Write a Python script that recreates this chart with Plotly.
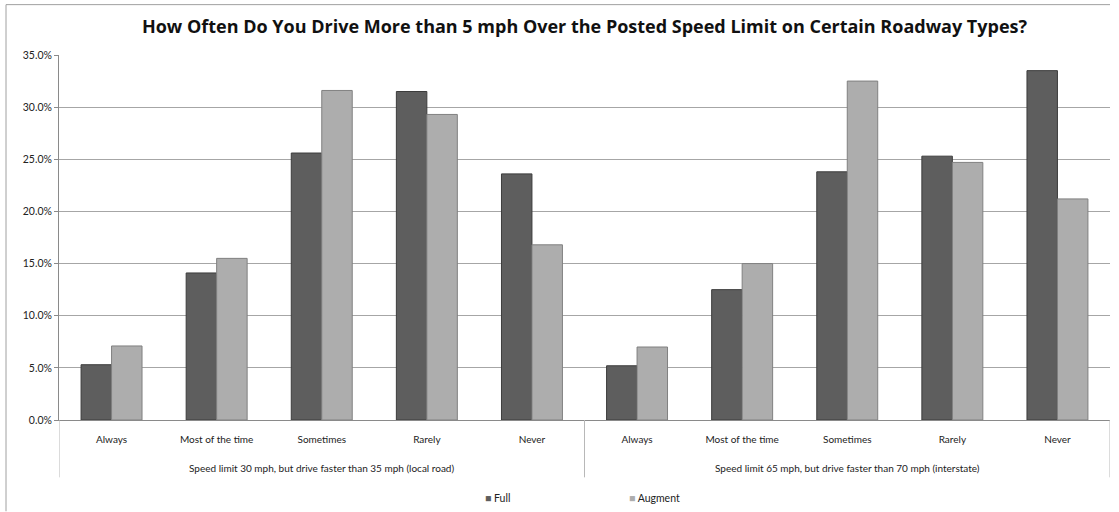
import plotly.graph_objects as go

groups = ["Speed limit 30 mph, but drive faster than 35 mph (local road)",
          "Speed limit 65 mph, but drive faster than 70 mph (interstate)"]
answers = ["Always", "Most of the time", "Sometimes", "Rarely", "Never"]
full_local = [0.053, 0.141, 0.256, 0.315, 0.236]
full_inter = [0.052, 0.125, 0.238, 0.253, 0.335]
aug_local = [0.071, 0.155, 0.316, 0.293, 0.168]
aug_inter = [0.070, 0.150, 0.325, 0.247, 0.212]
y_ticks = [0, 0.05, 0.10, 0.15, 0.20, 0.25, 0.30, 0.35]
series_names = ["Full", "Augment"]
series_colors = ["#5e5e5e", "#adadad"]

n = len(answers)
x_pos = list(range(n * len(groups)))
x_text = answers * len(groups)
full_vals = full_local + full_inter
aug_vals = aug_local + aug_inter

W, H = 1119, 512
L, R, T, B = 59, 1110, 54.5, 420.5

def px(x):
    return (x - L) / (R - L)

def py(y):
    return (B - y) / (B - T)

font_family = "Lato, 'Open Sans', sans-serif"

fig = go.Figure()
fig.add_trace(go.Bar(x=x_pos, y=full_vals, name=series_names[0],
                     marker=dict(color=series_colors[0], line=dict(color="#3c3c3c", width=1))))
fig.add_trace(go.Bar(x=x_pos, y=aug_vals, name=series_names[1],
                     marker=dict(color=series_colors[1], line=dict(color="#808080", width=1))))

annotations = []
for gi, g in enumerate(groups):
    annotations.append(dict(x=gi * n + (n - 1) / 2, xref="x", y=py(469), yref="paper",
                            text=g, showarrow=False, xanchor="center", yanchor="middle",
                            font=dict(size=10, color="#222222")))
legend_x = [483, 627]
for name, color, lx in zip(series_names, series_colors, legend_x):
    annotations.append(dict(x=px(lx), xref="paper", y=py(499), yref="paper",
                            text=f"<span style='color:{color}'>■</span> {name}",
                            showarrow=False, xanchor="left", yanchor="middle",
                            font=dict(size=10.5, color="#222222")))

shapes = [
    dict(type="line", xref="paper", yref="paper", x0=px(6), x1=px(1110), y0=py(4), y1=py(4),
         line=dict(color="#a0a0a0", width=1)),
    dict(type="line", xref="paper", yref="paper", x0=px(6), x1=px(6), y0=py(4), y1=py(512),
         line=dict(color="#a0a0a0", width=1)),
]
for gi in range(len(groups) + 1):
    shapes.append(dict(type="line", xref="x", yref="paper", x0=gi * n - 0.5, x1=gi * n - 0.5,
                       y0=0, y1=py(478), line=dict(color="#b8b8b8", width=1)))

fig.update_layout(
    width=W, height=H,
    margin=dict(l=L, r=W - R, t=T, b=H - B, autoexpand=False),
    paper_bgcolor="white", plot_bgcolor="white",
    barmode="group", bargap=0.42, bargroupgap=0.0,
    font=dict(family=font_family, size=10, color="#222222"),
    title=dict(text="<b>How Often Do You Drive More than 5 mph Over the Posted Speed Limit on Certain Roadway Types?</b>",
               x=0.5, xref="paper", xanchor="center", y=1 - 27 / H, yanchor="middle",
               font=dict(family="'Open Sans', sans-serif", size=18, color="#111111")),
    showlegend=False,
    xaxis=dict(range=[-0.5, len(x_pos) - 0.5], tickvals=x_pos, ticktext=x_text,
               showgrid=False, showline=True, linecolor="#8a8a8a", linewidth=1, ticks="",
               ticklabelstandoff=10, tickfont=dict(size=10, color="#222222"),
               zeroline=False, automargin=False),
    yaxis=dict(range=[0, 0.35], tickvals=y_ticks, tickformat=".1%", showgrid=True,
               gridcolor="#a6a6a6", gridwidth=1, showline=True, linecolor="#8a8a8a", linewidth=1,
               ticks="outside", ticklen=4, tickcolor="#8a8a8a", zeroline=False, automargin=False,
               tickfont=dict(size=10.5, color="#222222")),
    annotations=annotations,
    shapes=shapes,
)

fig.write_html("out.html")
